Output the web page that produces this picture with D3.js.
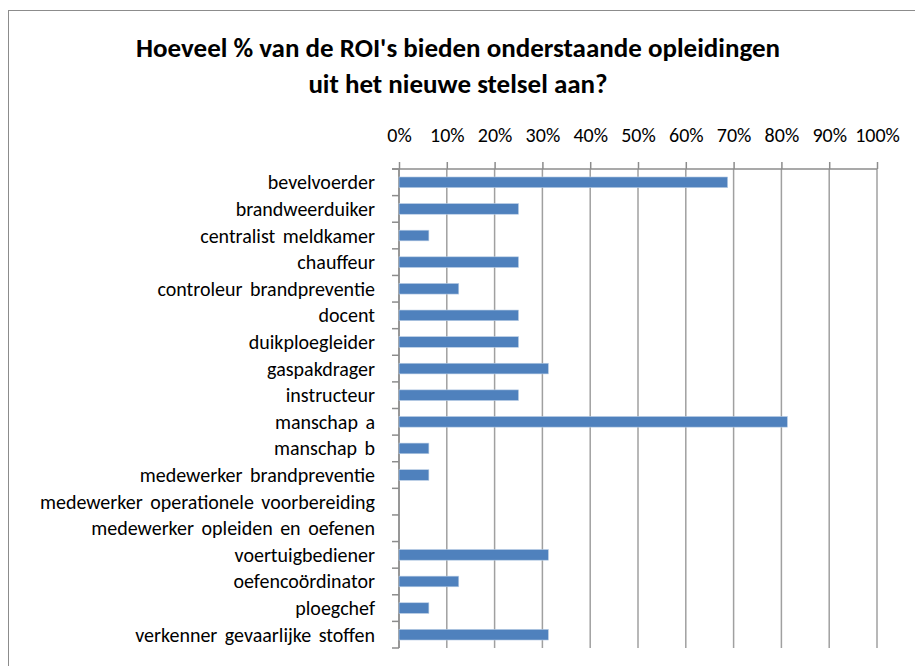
<!DOCTYPE html>
<html>
<head>
<meta charset="utf-8">
<script src="https://cdn.jsdelivr.net/npm/d3@7"></script>
<style>
  body { margin: 0; background: #fff; }
  svg { display: block; font-family: Carlito, Calibri, Lato, sans-serif; }
</style>
</head>
<body>
<svg id="chart" width="915" height="666"></svg>
<script>
const categories = ['bevelvoerder', 'brandweerduiker', 'centralist meldkamer', 'chauffeur', 'controleur brandpreventie', 'docent', 'duikploegleider', 'gaspakdrager', 'instructeur', 'manschap a', 'manschap b', 'medewerker brandpreventie', 'medewerker operationele voorbereiding', 'medewerker opleiden en oefenen', 'voertuigbediener', 'oefencoördinator', 'ploegchef', 'verkenner gevaarlijke stoffen']
const percentages = [68.75, 25, 6.25, 25, 12.5, 25, 25, 31.25, 25, 81.25, 6.25, 6.25, 0, 0, 31.25, 12.5, 6.25, 31.25]
const tickValues = [0, 10, 20, 30, 40, 50, 60, 70, 80, 90, 100]
const titleLines = ["Hoeveel % van de ROI's bieden onderstaande opleidingen", 'uit het nieuwe stelsel aan?']

const plotLeft = 399
const plotRight = 877
const plotTop = 169
const plotBottom = 648

const dataSet = categories.map((name, i) => ({ name, value: percentages[i] }))

const svg = d3.select('#chart')

// chart area border (right and bottom edges fall outside the picture)
svg.append('rect')
  .attr('x', 8.5)
  .attr('y', 10.5)
  .attr('width', 930)
  .attr('height', 700)
  .attr('fill', 'none')
  .attr('stroke', '#8c8c8c')
  .attr('stroke-width', 1)

const xScale = d3.scaleLinear()
  .domain([0, 100])
  .range([plotLeft, plotRight])

const yScale = d3.scaleBand()
  .domain(categories)
  .range([plotTop, plotBottom])
  .paddingInner(0.6)
  .paddingOuter(0.3)

// gridlines
svg.append('g')
  .selectAll('line')
  .data(tickValues)
  .enter()
  .append('line')
  .attr('x1', d => xScale(d))
  .attr('x2', d => xScale(d))
  .attr('y1', plotTop)
  .attr('y2', plotBottom)
  .attr('stroke', '#a0a0a0')
  .attr('stroke-width', 1.5)

// top axis
const xAxis = d3.axisTop(xScale)
  .tickValues(tickValues)
  .tickSize(7)
  .tickPadding(20)
  .tickFormat(d => d + '%')

const axisG = svg.append('g')
  .attr('transform', 'translate(0,' + plotTop + ')')
  .call(xAxis)
axisG.select('.domain').remove()
axisG.selectAll('line').attr('stroke', '#8c8c8c').attr('stroke-width', 1.5)
axisG.selectAll('text')
  .style('font-size', '20px')
  .style('font-family', 'Carlito, Calibri, Lato, sans-serif')
  .attr('fill', '#000')

svg.append('line')
  .attr('x1', plotLeft - 7)
  .attr('x2', plotRight)
  .attr('y1', plotTop)
  .attr('y2', plotTop)
  .attr('stroke', '#8c8c8c')
  .attr('stroke-width', 1.5)

// left axis line and category boundary ticks
svg.append('line')
  .attr('x1', plotLeft)
  .attr('x2', plotLeft)
  .attr('y1', plotTop)
  .attr('y2', plotBottom)
  .attr('stroke', '#8c8c8c')
  .attr('stroke-width', 1.5)

const boundaries = d3.range(categories.length + 1).map(i => plotTop + i * yScale.step())
svg.append('g')
  .selectAll('line')
  .data(boundaries)
  .enter()
  .append('line')
  .attr('x1', plotLeft - 7)
  .attr('x2', plotLeft)
  .attr('y1', d => d)
  .attr('y2', d => d)
  .attr('stroke', '#8c8c8c')
  .attr('stroke-width', 1.5)

// category labels
svg.append('g')
  .selectAll('text')
  .data(dataSet)
  .enter()
  .append('text')
  .attr('x', plotLeft - 24)
  .attr('y', d => yScale(d.name) + yScale.bandwidth() / 2)
  .attr('dy', '0.35em')
  .attr('text-anchor', 'end')
  .style('font-size', '20px')
  .style('word-spacing', '3px')
  .text(d => d.name)

// bars
svg.append('g')
  .selectAll('rect')
  .data(dataSet.filter(d => d.value > 0))
  .enter()
  .append('rect')
  .attr('x', plotLeft)
  .attr('y', d => yScale(d.name))
  .attr('width', d => xScale(d.value) - plotLeft)
  .attr('height', yScale.bandwidth())
  .attr('fill', '#4f81bd')
  .attr('stroke', '#b9cde5')
  .attr('stroke-width', 0.6)

// title
svg.append('g')
  .selectAll('text')
  .data(titleLines)
  .enter()
  .append('text')
  .attr('x', 458)
  .attr('y', (d, i) => 57 + i * 36)
  .attr('text-anchor', 'middle')
  .style('font-size', '27px')
  .style('font-weight', 'bold')
  .text(d => d)
</script>
</body>
</html>
